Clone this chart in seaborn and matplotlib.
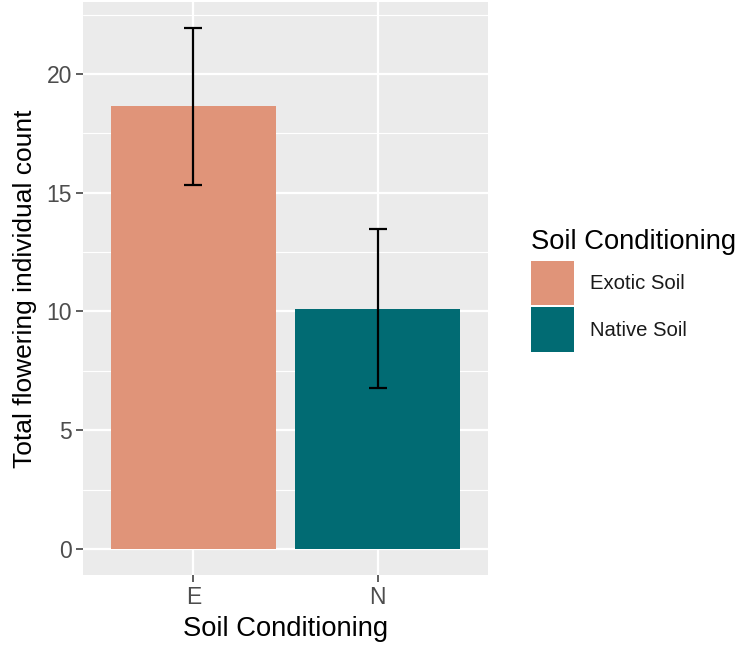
import matplotlib
matplotlib.use("Agg")
import matplotlib.pyplot as plt
from matplotlib.patches import Patch
from matplotlib.ticker import MultipleLocator
import pandas as pd
import seaborn as sns

# Mean flowering counts per soil treatment with standard errors
soil_codes = ["E", "N"]
soil_labels = ["Exotic Soil", "Native Soil"]
mean_counts = [18.63, 10.12]
std_errors = [3.30, 3.34]
bar_colors = ["#E09479", "#016B73"]

df = pd.DataFrame({"soil": soil_codes, "count": mean_counts, "se": std_errors})

sns.set_theme(style="darkgrid", rc={
    "axes.facecolor": "#EBEBEB",
    "grid.color": "white",
    "figure.facecolor": "white",
    "text.color": "black",
})
plt.rcParams["font.family"] = ["Liberation Sans", "DejaVu Sans"]

fig = plt.figure(figsize=(7.38, 6.52), dpi=100)
ax = fig.add_axes([83 / 738, 77 / 652, 405 / 738, 573 / 652])

sns.barplot(data=df, x="soil", y="count", hue="soil", palette=bar_colors,
            width=0.9, saturation=1, errorbar=None, legend=False, ax=ax,
            linewidth=0)

ax.errorbar(x=range(len(soil_codes)), y=df["count"], yerr=df["se"],
            fmt="none", ecolor="black", elinewidth=1.6, capsize=6.5,
            capthick=1.6, zorder=5)

top = max(m + s for m, s in zip(mean_counts, std_errors))
pad = 0.05 * top
ax.set_ylim(-pad, top + pad)
ax.set_xlim(-0.6, len(soil_codes) - 0.4)

ax.yaxis.set_major_locator(MultipleLocator(5))
ax.yaxis.set_minor_locator(MultipleLocator(2.5))
ax.grid(which="major", color="white", linewidth=1.6)
ax.grid(which="minor", axis="y", color="white", linewidth=0.8)
ax.set_axisbelow(True)
for s in ax.spines.values():
    s.set_visible(False)

ax.tick_params(axis="both", which="major", bottom=True, left=True,
               length=5, width=1.1, color="#333333", labelcolor="#4D4D4D",
               labelsize=16.5, pad=3)
ax.tick_params(which="minor", length=0)

ax.set_xlabel("Soil Conditioning", fontsize=19.7, color="black", labelpad=5)
ax.set_ylabel("Total flowering individual count", fontsize=19,
              color="black", labelpad=7)

handles = [Patch(facecolor=c, edgecolor="none") for c in bar_colors]
leg = fig.legend(handles, soil_labels, title="Soil Conditioning",
                 loc="upper left", bbox_to_anchor=(531 / 738, 1 - 229 / 652),
                 frameon=False, fontsize=14.6, title_fontsize=19.7,
                 handlelength=2.1, handleheight=3.0, labelspacing=0.12,
                 handletextpad=0.8, borderpad=0, borderaxespad=0,
                 alignment="left")
leg.get_title().set_color("black")
leg._legend_box.sep = 4
for t in leg.get_texts():
    t.set_color("#1A1A1A")

fig.savefig("out.png", dpi=100)
